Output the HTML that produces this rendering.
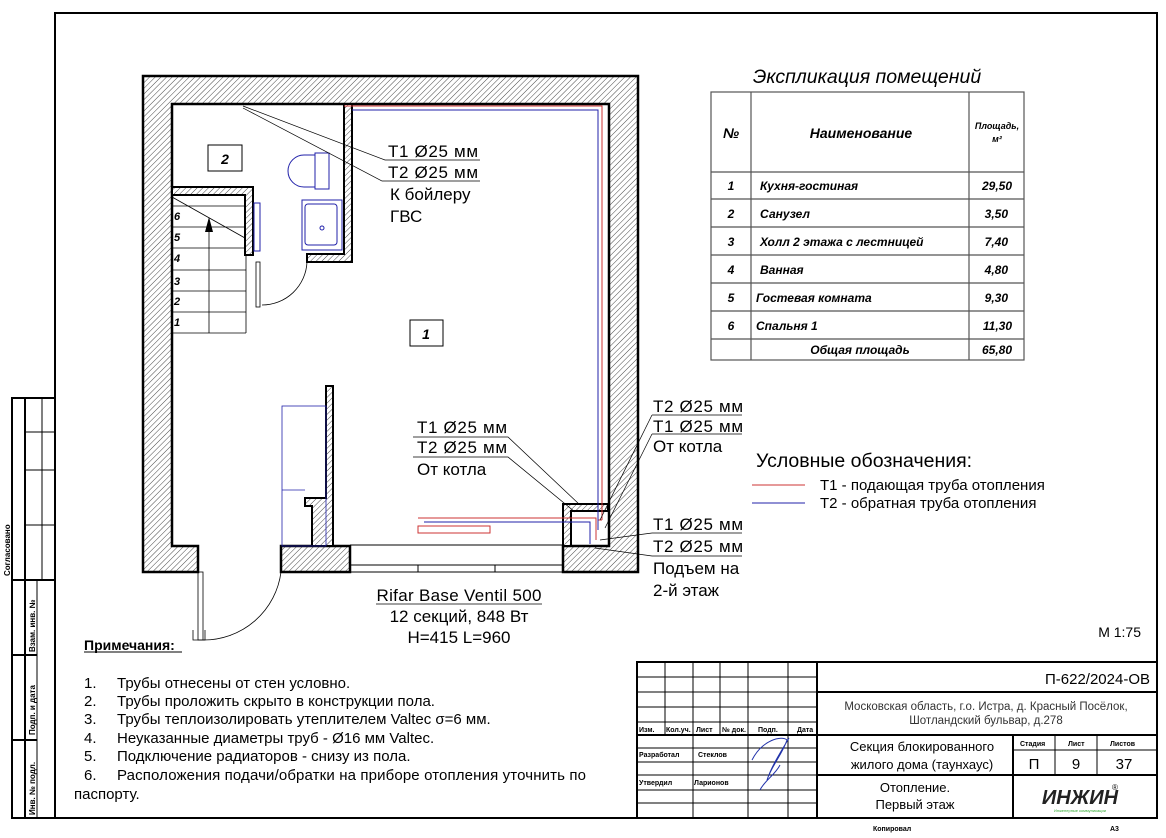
<!DOCTYPE html>
<html><head><meta charset="utf-8"><style>
body{margin:0;background:#fff}
svg text{font-family:"Liberation Sans","Noto Sans CJK SC",sans-serif}
.it{font-style:italic;font-weight:bold}
</style></head><body>
<svg width="1166" height="833" viewBox="0 0 1166 833" xmlns="http://www.w3.org/2000/svg">
<defs>
<pattern id="h" width="4" height="4" patternUnits="userSpaceOnUse" patternTransform="rotate(45)">
<rect width="4" height="4" fill="#fff"/><line x1="0" y1="0" x2="0" y2="4" stroke="#333" stroke-width="0.9"/>
</pattern>
</defs>
<rect width="1166" height="833" fill="#fff"/>
<rect x="55" y="13" width="1102" height="805" fill="none" stroke="#000" stroke-width="2"/>
<g stroke="#000" fill="none">
<rect x="12" y="398" width="43" height="420" stroke-width="2"/>
<line x1="12" y1="580" x2="55" y2="580" stroke-width="2"/>
<line x1="25" y1="398" x2="25" y2="580" stroke-width="2"/>
<line x1="37" y1="580" x2="37" y2="818" stroke-width="1"/>
<line x1="25" y1="580" x2="25" y2="818" stroke-width="2"/>
<line x1="42" y1="398" x2="42" y2="580"/>
<line x1="25" y1="432" x2="55" y2="432"/><line x1="25" y1="470" x2="55" y2="470"/><line x1="25" y1="525" x2="55" y2="525"/>
<line x1="12" y1="655" x2="37" y2="655" stroke-width="2"/><line x1="12" y1="740" x2="37" y2="740" stroke-width="2"/>
</g>
<g font-size="8" font-weight="bold">
<text transform="translate(10,576) rotate(-90)">Согласовано</text>
<text transform="translate(35,652) rotate(-90)">Взам. инв. №</text>
<text transform="translate(35,735) rotate(-90)">Подп. и дата</text>
<text transform="translate(35,815) rotate(-90)">Инв. № подл.</text>
</g>

<g stroke="#000" stroke-width="2.5">
<path d="M143,76 H638 V572 H563 V546 H609 V104 H172 V546 H198 V572 H143 Z" fill="url(#h)"/>
<rect x="281" y="546" width="69" height="26" fill="url(#h)"/>
<path d="M563,504 H608 V511 H571 V546 H563 Z" fill="url(#h)" stroke-width="2"/>
<path d="M344,104 H352 V262 H307 V254 H344 Z" fill="url(#h)" stroke-width="2"/>
<path d="M172,187 H253 V255 H245 V195 H172 Z" fill="url(#h)" stroke-width="2"/>
<path d="M326,386 H333 V546 H312 V506 H305 V498 H326 Z" fill="url(#h)" stroke-width="2"/>
</g>
<g stroke="#000" stroke-width="1" fill="none">
<line x1="350" y1="545" x2="563" y2="545"/><line x1="350" y1="565" x2="563" y2="565"/><line x1="350" y1="572" x2="563" y2="572"/>
<line x1="418" y1="565" x2="418" y2="572"/><line x1="495" y1="565" x2="495" y2="572"/>
</g>
<g stroke="#000" stroke-width="0.8" fill="none">
<line x1="172" y1="206" x2="246" y2="206"/><line x1="172" y1="227" x2="246" y2="227"/>
<line x1="172" y1="248" x2="246" y2="248"/><line x1="172" y1="270" x2="246" y2="270"/>
<line x1="172" y1="291" x2="246" y2="291"/><line x1="172" y1="312" x2="246" y2="312"/>
<line x1="172" y1="333" x2="246" y2="333"/><line x1="246" y1="255" x2="246" y2="333"/>
<line x1="209" y1="222" x2="209" y2="333"/>
<line x1="172" y1="197" x2="245" y2="238"/>
</g>
<path d="M209,217 L205,232 H213 Z" fill="#000"/>
<g font-size="11" class="it">
<text x="174" y="220">6</text><text x="174" y="241">5</text><text x="174" y="262">4</text>
<text x="174" y="285">3</text><text x="174" y="305">2</text><text x="174" y="326">1</text>
</g>
<rect x="254" y="203" width="6" height="48" fill="none" stroke="#22a" stroke-width="1"/>
<g stroke="#000" stroke-width="0.8" fill="none">
<rect x="256" y="262" width="4" height="45"/>
<path d="M262,305 A45,45 0 0 0 307,262"/>
<rect x="198" y="572" width="5" height="68"/>
<path d="M203,640 A78,78 0 0 0 281,572"/>
<path d="M193,630 v10 h12 v-10"/>
</g>
<g stroke="#22a" stroke-width="1" fill="none">
<rect x="315" y="153" width="14" height="36"/>
<path d="M315,155 H304 A10,10 0 0 0 304,187 H315"/>
<rect x="302" y="200" width="40" height="50"/>
<rect x="305" y="204" width="32" height="41" rx="3"/>
<circle cx="322" cy="228" r="2"/>
<rect x="282" y="406" width="44" height="140" stroke-width="0.8"/>
<line x1="282" y1="490" x2="305" y2="490" stroke-width="0.8"/>
</g>
<g fill="none" stroke-width="1">
<path d="M344,106 H602 V520 M602,520 H598" stroke="#c33"/>
<path d="M352,110 H598 V530" stroke="#22a"/>
<path d="M418,518 H596 V540" stroke="#c33"/>
<path d="M424,522 H590 V544" stroke="#22a"/>
<rect x="418" y="526" width="72" height="7" stroke="#c33"/>
</g>
<rect x="208" y="145" width="34" height="26" fill="#fff" stroke="#000"/>
<text x="225" y="164" font-size="14" class="it" text-anchor="middle">2</text>
<rect x="410" y="320" width="33" height="26" fill="#fff" stroke="#000"/>
<text x="426" y="339" font-size="14" class="it" text-anchor="middle">1</text>

<g stroke="#000" stroke-width="0.7" fill="none">
<path d="M243,106 L385,160 H480"/><path d="M243,108 L382,181 H480"/>
<path d="M413,437 H508 L580,505"/><path d="M413,457 H508 L575,512"/>
<path d="M652,415 H742"/><path d="M652,434 H742"/>
<path d="M652,415 L600,520"/><path d="M652,434 L605,528"/>
<path d="M652,533 H742 M652,533 L600,540"/><path d="M652,556 H742 M652,556 L595,548"/>
<path d="M376,604 H542"/>
</g>
<g font-size="17">
<text x="388" y="157" textLength="90">T1 Ø25 мм</text><text x="388" y="178" textLength="90">T2 Ø25 мм</text>
<text x="390" y="200">К бойлеру</text><text x="390" y="222">ГВС</text>
<text x="417" y="433" textLength="90">T1 Ø25 мм</text><text x="417" y="453" textLength="90">T2 Ø25 мм</text><text x="417" y="475">От котла</text>
<text x="653" y="412" textLength="90">T2 Ø25 мм</text><text x="653" y="432" textLength="90">T1 Ø25 мм</text><text x="653" y="452">От котла</text>
<text x="653" y="530" textLength="90">T1 Ø25 мм</text><text x="653" y="552" textLength="90">T2 Ø25 мм</text>
<text x="653" y="574">Подъем на</text><text x="653" y="596">2-й этаж</text>
<text x="459" y="601" text-anchor="middle" textLength="165">Rifar Base Ventil 500</text>
<text x="459" y="622" text-anchor="middle">12 секций, 848 Вт</text>
<text x="459" y="643" text-anchor="middle">H=415 L=960</text>
</g>

<text x="756" y="467" font-size="19.5">Условные обозначения:</text>
<line x1="752" y1="485" x2="805" y2="485" stroke="#c33"/>
<line x1="752" y1="503" x2="805" y2="503" stroke="#22a"/>
<text x="820" y="490" font-size="15">T1 - подающая труба отопления</text>
<text x="820" y="508" font-size="15">T2 - обратная труба отопления</text>

<text x="867" y="83" font-size="19.5" text-anchor="middle" style="font-style:italic">Экспликация помещений</text>
<g stroke="#555" stroke-width="1.2" fill="none">
<rect x="711" y="92" width="313" height="268"/>
<line x1="751" y1="92" x2="751" y2="360"/><line x1="969" y1="92" x2="969" y2="360"/>
<line x1="711" y1="172" x2="1024" y2="172"/><line x1="711" y1="199" x2="1024" y2="199"/>
<line x1="711" y1="227" x2="1024" y2="227"/><line x1="711" y1="255" x2="1024" y2="255"/>
<line x1="711" y1="283" x2="1024" y2="283"/><line x1="711" y1="311" x2="1024" y2="311"/>
<line x1="711" y1="339" x2="1024" y2="339"/>
</g>
<g font-size="12" class="it">
<text x="731" y="138" text-anchor="middle" font-size="14">№</text>
<text x="861" y="138" text-anchor="middle" font-size="14">Наименование</text>
<text x="997" y="129" text-anchor="middle" font-size="9">Площадь,</text>
<text x="997" y="142" text-anchor="middle" font-size="9">м²</text>
<text x="731" y="190" text-anchor="middle">1</text><text x="760" y="190">Кухня-гостиная</text><text x="1012" y="190" text-anchor="end">29,50</text>
<text x="731" y="218" text-anchor="middle">2</text><text x="760" y="218">Санузел</text><text x="1008" y="218" text-anchor="end">3,50</text>
<text x="731" y="246" text-anchor="middle">3</text><text x="760" y="246">Холл 2 этажа с лестницей</text><text x="1008" y="246" text-anchor="end">7,40</text>
<text x="731" y="274" text-anchor="middle">4</text><text x="760" y="274">Ванная</text><text x="1008" y="274" text-anchor="end">4,80</text>
<text x="731" y="302" text-anchor="middle">5</text><text x="756" y="302">Гостевая комната</text><text x="1008" y="302" text-anchor="end">9,30</text>
<text x="731" y="330" text-anchor="middle">6</text><text x="756" y="330">Спальня 1</text><text x="1012" y="330" text-anchor="end">11,30</text>
<text x="860" y="354" text-anchor="middle">Общая площадь</text><text x="1012" y="354" text-anchor="end">65,80</text>
</g>

<text x="1141" y="637" font-size="14" text-anchor="end">M 1:75</text>

<text x="84" y="650" font-size="14" font-weight="bold">Примечания:</text>
<line x1="84" y1="652" x2="182" y2="652" stroke="#000"/>
<g font-size="15">
<text x="84" y="688">1.</text><text x="117" y="688">Трубы отнесены от стен условно.</text>
<text x="84" y="706">2.</text><text x="117" y="706">Трубы проложить скрыто в конструкции пола.</text>
<text x="84" y="724">3.</text><text x="117" y="724">Трубы теплоизолировать утеплителем Valtec σ=6 мм.</text>
<text x="84" y="743">4.</text><text x="117" y="743">Неуказанные диаметры труб - Ø16 мм Valtec.</text>
<text x="84" y="761">5.</text><text x="117" y="761">Подключение радиаторов - снизу из пола.</text>
<text x="84" y="780">6.</text><text x="117" y="780" textLength="469">Расположения подачи/обратки на приборе отопления уточнить по</text>
<text x="74" y="799">паспорту.</text>
</g>

<g stroke="#000" fill="none">
<rect x="637" y="662" width="520" height="156" stroke-width="2"/>
<line x1="817" y1="662" x2="817" y2="818" stroke-width="2"/>
<line x1="817" y1="692" x2="1157" y2="692" stroke-width="2"/>
<line x1="637" y1="735" x2="1157" y2="735" stroke-width="2"/>
<line x1="817" y1="775" x2="1157" y2="775" stroke-width="2"/>
<line x1="1013" y1="735" x2="1013" y2="818" stroke-width="2"/>
<line x1="1013" y1="750" x2="1157" y2="750"/>
<line x1="1055" y1="735" x2="1055" y2="775"/><line x1="1097" y1="735" x2="1097" y2="775"/>
<line x1="665" y1="662" x2="665" y2="735"/><line x1="693" y1="662" x2="693" y2="818"/>
<line x1="720" y1="662" x2="720" y2="735"/><line x1="748" y1="662" x2="748" y2="818"/>
<line x1="788" y1="662" x2="788" y2="818"/>
<line x1="637" y1="677" x2="817" y2="677"/><line x1="637" y1="692" x2="817" y2="692"/>
<line x1="637" y1="707" x2="817" y2="707"/><line x1="637" y1="722" x2="817" y2="722"/>
<line x1="637" y1="748" x2="817" y2="748"/><line x1="637" y1="762" x2="817" y2="762"/>
<line x1="637" y1="775" x2="817" y2="775"/><line x1="637" y1="790" x2="817" y2="790"/>
<line x1="637" y1="803" x2="817" y2="803"/>
</g>
<g font-size="7" font-weight="bold">
<text x="639" y="732">Изм.</text><text x="666" y="732">Кол.уч.</text><text x="696" y="732">Лист</text>
<text x="722" y="732">№ док.</text><text x="758" y="732">Подп.</text><text x="797" y="732">Дата</text>
<text x="639" y="757">Разработал</text><text x="698" y="757">Стеклов</text>
<text x="639" y="785">Утвердил</text><text x="694" y="785">Ларионов</text>
<text x="1020" y="746">Стадия</text><text x="1068" y="746">Лист</text><text x="1110" y="746">Листов</text>
<text x="873" y="831">Копировал</text><text x="1110" y="831">А3</text>
</g>
<path d="M752,760 c10,-20 30,-25 35,-20 c-5,15 -15,25 -20,40 c5,-15 15,-30 22,-42 M760,790 c5,-10 15,-15 20,-25" stroke="#23a" fill="none" stroke-width="1"/>
<text x="1150" y="684" font-size="15" text-anchor="end">П-622/2024-ОВ</text>
<text x="986" y="710" font-size="11.5" text-anchor="middle" fill="#333">Московская область, г.о. Истра, д. Красный Посёлок,</text>
<text x="986" y="724" font-size="11.5" text-anchor="middle" fill="#333">Шотландский бульвар, д.278</text>
<text x="922" y="751" font-size="13" text-anchor="middle">Секция блокированного</text>
<text x="922" y="769" font-size="13" text-anchor="middle">жилого дома (таунхаус)</text>
<text x="1034" y="769" font-size="15" text-anchor="middle">П</text>
<text x="1076" y="769" font-size="15" text-anchor="middle">9</text>
<text x="1124" y="769" font-size="15" text-anchor="middle">37</text>
<text x="915" y="792" font-size="13" text-anchor="middle">Отопление.</text>
<text x="915" y="809" font-size="13" text-anchor="middle">Первый этаж</text>
<text x="1080" y="804" font-size="20" font-weight="bold" text-anchor="middle" fill="#222" style="font-style:italic">ИНЖИН</text>
<text x="1112" y="790" font-size="8">®</text>
<text x="1080" y="812" font-size="4" text-anchor="middle" fill="#3a3">Инженерные коммуникации</text>
</svg>
</body></html>
